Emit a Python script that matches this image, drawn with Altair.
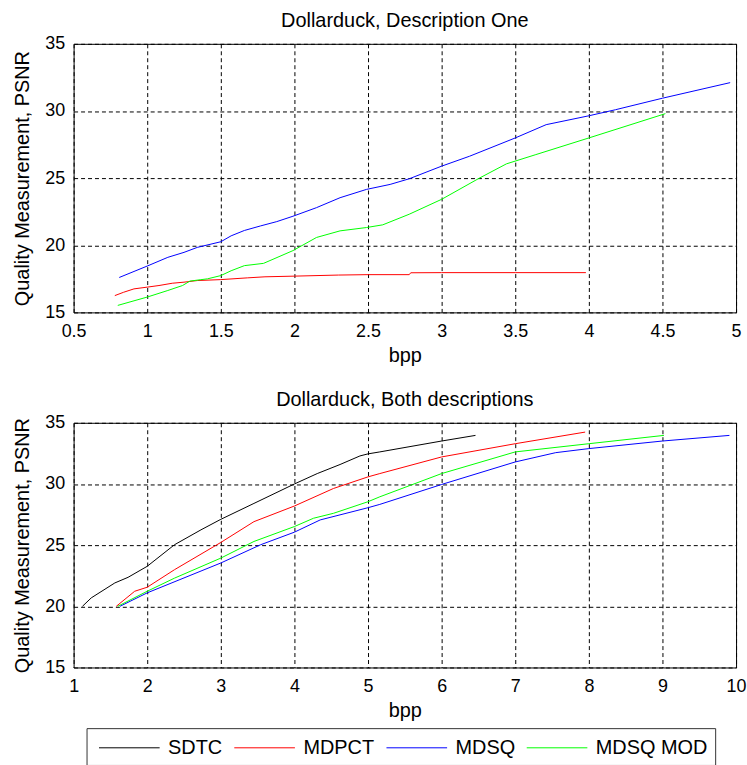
import altair as alt
import pandas as pd

series_names = ["SDTC", "MDPCT", "MDSQ", "MDSQ MOD"]
series_colors = ["#000000", "#FF0000", "#0000FF", "#00FF00"]

# Top panel: Dollarduck, Description One
top_mdpct_x = [0.78, 0.84, 0.91, 1.0, 1.08, 1.17, 1.25, 1.34, 1.5, 1.68, 1.8, 2.0, 2.3, 2.5, 2.78, 2.79, 3.0, 3.5, 3.98]
top_mdpct_y = [16.25, 16.5, 16.75, 16.88, 17.0, 17.17, 17.25, 17.37, 17.44, 17.57, 17.65, 17.7, 17.78, 17.81, 17.81, 17.95, 17.96, 17.96, 17.96]
top_mdsq_x = [0.81, 1.0, 1.14, 1.25, 1.34, 1.5, 1.57, 1.66, 1.77, 1.88, 1.99, 2.15, 2.31, 2.49, 2.65, 2.78, 3.0, 3.19, 3.5, 3.71, 4.0, 4.18, 4.5, 4.96]
top_mdsq_y = [17.6, 18.45, 19.1, 19.47, 19.84, 20.26, 20.7, 21.1, 21.44, 21.76, 22.16, 22.8, 23.54, 24.16, 24.53, 24.95, 25.89, 26.63, 27.99, 28.98, 29.64, 30.09, 30.95, 32.11]
top_mdsqmod_x = [0.8, 1.0, 1.14, 1.24, 1.29, 1.36, 1.41, 1.5, 1.57, 1.66, 1.79, 1.99, 2.15, 2.31, 2.49, 2.6, 2.78, 3.0, 3.26, 3.44, 3.64, 4.0, 4.52]
top_mdsqmod_y = [15.52, 16.14, 16.63, 17.0, 17.33, 17.43, 17.5, 17.74, 18.1, 18.48, 18.65, 19.6, 20.58, 21.07, 21.32, 21.52, 22.31, 23.42, 25.02, 26.06, 26.75, 27.99, 29.8]

# Bottom panel: Dollarduck, Both descriptions
bot_sdtc_x = [1.12, 1.24, 1.56, 1.74, 2.0, 2.37, 2.73, 3.0, 3.45, 4.0, 4.31, 4.62, 4.89, 5.0, 5.16, 6.0, 6.46]
bot_sdtc_y = [20.0, 20.69, 21.91, 22.37, 23.27, 25.03, 26.25, 27.11, 28.41, 30.0, 30.85, 31.59, 32.29, 32.46, 32.62, 33.51, 33.97]
bot_mdpct_x = [1.58, 1.83, 2.0, 2.37, 3.0, 3.45, 4.0, 4.53, 5.0, 5.16, 6.0, 7.0, 7.95]
bot_mdpct_y = [20.0, 21.23, 21.56, 22.99, 25.22, 26.92, 28.2, 29.63, 30.58, 30.85, 32.21, 33.29, 34.24]
bot_mdsq_x = [1.63, 2.0, 3.0, 3.54, 4.0, 4.35, 5.0, 5.16, 6.0, 7.0, 7.55, 8.0, 9.0, 9.91]
bot_mdsq_y = [20.0, 21.1, 23.54, 25.03, 26.06, 27.06, 28.06, 28.33, 29.96, 31.8, 32.56, 32.89, 33.51, 33.97]
bot_mdsqmod_x = [1.6, 2.0, 2.37, 3.0, 3.45, 4.0, 4.26, 4.53, 5.0, 5.16, 6.0, 7.0, 8.0, 9.02]
bot_mdsqmod_y = [20.0, 21.23, 22.3, 23.94, 25.3, 26.52, 27.2, 27.6, 28.55, 28.95, 30.85, 32.62, 33.29, 33.97]

top_x_ticks = [0.5, 1, 1.5, 2, 2.5, 3, 3.5, 4, 4.5, 5]
bot_x_ticks = [1, 2, 3, 4, 5, 6, 7, 8, 9, 10]
y_ticks = [15, 20, 25, 30, 35]

top_title = "Dollarduck, Description One"
bot_title = "Dollarduck, Both descriptions"
x_title = "bpp"
y_title = "Quality Measurement, PSNR"


def frame(pairs):
    rows = []
    for name, xs, ys in pairs:
        for i, (a, b) in enumerate(zip(xs, ys)):
            rows.append({"series": name, "bpp": a, "psnr": b, "idx": i})
    return pd.DataFrame(rows)


top_df = frame([
    ("MDPCT", top_mdpct_x, top_mdpct_y),
    ("MDSQ", top_mdsq_x, top_mdsq_y),
    ("MDSQ MOD", top_mdsqmod_x, top_mdsqmod_y),
])
bot_df = frame([
    ("SDTC", bot_sdtc_x, bot_sdtc_y),
    ("MDPCT", bot_mdpct_x, bot_mdpct_y),
    ("MDSQ", bot_mdsq_x, bot_mdsq_y),
    ("MDSQ MOD", bot_mdsqmod_x, bot_mdsqmod_y),
])

FONT = "Liberation Sans"

color_enc = alt.Color(
    "series:N",
    scale=alt.Scale(domain=series_names, range=series_colors),
    sort=series_names,
    legend=alt.Legend(
        title=None,
        orient="none",
        legendX=13,
        legendY=688,
        direction="horizontal",
        symbolType="M-0.58,0H4.5",
        symbolSize=576,
        symbolStrokeWidth=1,
        labelFontSize=20,
        labelFont=FONT,
        labelColor="#000000",
        labelOffset=50,
        columnPadding=6,
        padding=7,
        strokeColor="#333333",
        fillColor="#FFFFFF",
    ),
)


def y_axis():
    return alt.Axis(
        values=y_ticks, format="~r", title=y_title, ticks=False, domain=False,
        labelPadding=9, titlePadding=12, labelFontSize=18, titleFontSize=20,
        labelFont=FONT, titleFont=FONT, titleFontWeight="normal",
        labelColor="#000000", titleColor="#000000",
        grid=True, gridColor="#000000", gridDash=[4, 3], gridOpacity=1, gridWidth=1,
    )


def x_axis(vals):
    return alt.Axis(
        values=vals, format="~r", title=x_title, ticks=False, domain=False,
        labelPadding=10, titlePadding=5, labelFontSize=18, titleFontSize=20,
        labelFont=FONT, titleFont=FONT, titleFontWeight="normal",
        labelColor="#000000", titleColor="#000000", labelFlush=False,
        grid=True, gridColor="#000000", gridDash=[4, 3], gridOpacity=1, gridWidth=1,
    )


def panel(df, title, xdom, xticks, h):
    return alt.Chart(df).mark_line(strokeWidth=1).encode(
        x=alt.X("bpp:Q", scale=alt.Scale(domain=xdom, nice=False, zero=False), axis=x_axis(xticks)),
        y=alt.Y("psnr:Q", scale=alt.Scale(domain=[15, 35], nice=False, zero=False), axis=y_axis()),
        color=color_enc,
        order="idx:Q",
    ).properties(
        width=666,
        height=h,
        title=alt.TitleParams(title, fontSize=20, font=FONT, fontWeight="normal",
                              color="#000000", anchor="middle", offset=4),
    )


top = panel(top_df, top_title, [0.5, 5], top_x_ticks, 270)
bot = panel(bot_df, bot_title, [1, 10], bot_x_ticks, 246)

chart = alt.vconcat(top, bot, spacing=23).properties(
    padding={"left": 12, "top": 8, "right": 0, "bottom": 0},
    background="#FFFFFF",
).configure_view(
    stroke="#000000", strokeWidth=1,
)

chart.save("out.html", embed_options={"renderer": "svg", "actions": False})
